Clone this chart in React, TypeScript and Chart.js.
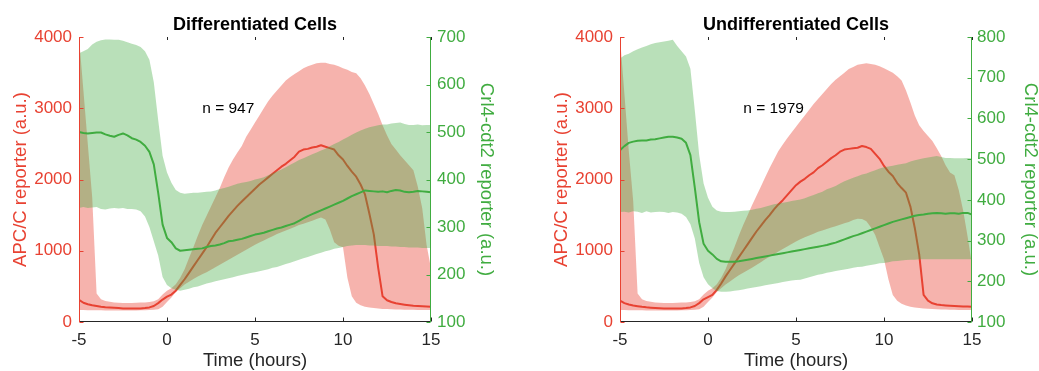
import React, { useEffect, useRef } from "react";
import { Chart, registerables } from "chart.js";

Chart.register(...registerables);

// ---------- data ----------
const TIME_H = [
  -5, -4.75, -4.5, -4.25, -4, -3.75, -3.5, -3.25, -3, -2.75, -2.5, -2.25, -2, -1.75, -1.5, -1.25, -1, -0.75, -0.5, -0.25,
  0, 0.25, 0.5, 0.75, 1, 1.25, 1.5, 1.75, 2, 2.25, 2.5, 2.75, 3, 3.25, 3.5, 3.75, 4, 4.25, 4.5, 4.75,
  5, 5.25, 5.5, 5.75, 6, 6.25, 6.5, 6.75, 7, 7.25, 7.5, 7.75, 8, 8.25, 8.5, 8.75, 9, 9.25, 9.5, 9.75,
  10, 10.25, 10.5, 10.75, 11, 11.25, 11.5, 11.75, 12, 12.25, 12.5, 12.75, 13, 13.25, 13.5, 13.75, 14, 14.25, 14.5, 14.75,
  15,
];

// Differentiated cells — APC/C reporter
const DIFF_APC_MEAN = [
  310, 270, 250, 235, 225, 215, 208, 203, 199, 195, 191, 189, 188, 188, 190, 195, 205, 225, 265, 315,
  355, 385, 440, 520, 600, 690, 780, 870, 960, 1050, 1150, 1250, 1330, 1410, 1490, 1560, 1630, 1690, 1750, 1810,
  1870, 1930, 1980, 2030, 2080, 2130, 2180, 2220, 2270, 2320, 2390, 2420, 2430, 2450, 2460, 2480, 2460, 2440, 2420, 2340,
  2280, 2190, 2110, 2040, 1930, 1790, 1520, 1230, 760, 360, 305, 280, 262, 252, 243, 235, 228, 224, 220, 217,
  214,
];
const DIFF_APC_HI = [
  4000, 3250, 2500, 1750, 400, 320, 295, 285, 275, 270, 268, 268, 268, 270, 272, 275, 280, 290, 320, 385,
  440, 475, 530, 620, 740, 900, 1050, 1210, 1360, 1490, 1620, 1750, 1880, 2030, 2170, 2280, 2380, 2470, 2600, 2700,
  2800, 2900, 3000, 3100, 3180, 3250, 3320, 3390, 3440, 3480, 3520, 3560, 3590, 3610, 3630, 3640, 3640, 3620, 3610, 3590,
  3560, 3540, 3510, 3490, 3420, 3320, 3200, 3060, 2920, 2760, 2620, 2500, 2420, 2340, 2270, 2200, 2130, 1900, 1600, 1080,
  750,
];
const DIFF_APC_LO = [
  170, 168, 166, 165, 165, 164, 163, 163, 162, 162, 162, 162, 162, 163, 164, 166, 168, 172, 180, 215,
  280, 345, 420, 475, 525, 565, 605, 640, 670, 700, 735, 770, 805, 840, 875, 910, 945, 980, 1015, 1050,
  1085, 1115, 1145, 1175, 1205, 1235, 1260, 1285, 1310, 1335, 1360, 1380, 1400, 1420, 1445, 1465, 1440, 1300, 1120, 1070,
  1050, 620, 360, 270, 235, 215, 202, 195, 188, 184, 181, 178, 176, 175, 173, 172, 171, 170, 169, 168,
  168,
];
// Differentiated cells — Crl4-cdt2 reporter
const DIFF_CDT_MEAN = [
  500, 498, 497, 498, 499, 499, 495, 492, 490, 494, 497, 493, 487, 484, 479, 471, 458, 432, 372, 305,
  277, 268, 255, 250, 251, 252, 253, 254, 255, 258, 260, 261, 263, 266, 270, 271, 273, 275, 278, 281,
  284, 286, 288, 291, 294, 297, 299, 302, 305, 308, 313, 318, 323, 327, 331, 335, 339, 343, 347, 351,
  355, 360, 365, 369, 373, 377, 376, 375, 374, 375, 373, 376, 378, 377, 374, 373, 374, 376, 375, 374,
  373,
];
const DIFF_CDT_HI = [
  666, 670, 675, 684, 690, 693, 695, 695, 694, 694, 692, 689, 686, 683, 679, 670, 652, 605, 525, 450,
  415, 393, 378, 372, 370, 371, 372, 372, 373, 374, 375, 377, 380, 382, 385, 388, 391, 393, 395, 397,
  400, 402, 405, 409, 413, 417, 421, 426, 431, 436, 441, 445, 449, 453, 457, 461, 465, 470, 475, 479,
  484, 489, 494, 499, 503, 507, 510, 512, 514, 516, 516, 518, 519, 520, 517, 515, 515, 516, 514, 515,
  515,
];
const DIFF_CDT_LO = [
  340, 342, 340, 341, 342, 338, 337, 339, 340, 339, 340, 338, 338, 337, 333, 322, 300, 270, 240, 195,
  178, 171, 168, 166, 168, 170, 173, 175, 178, 181, 183, 186, 188, 190, 192, 194, 197, 199, 201, 203,
  205, 207, 209, 211, 214, 216, 219, 222, 225, 228, 231, 234, 237, 240, 243, 246, 249, 251, 254, 256,
  258, 260, 261, 262, 262, 262, 261, 261, 260, 260, 260, 259, 259, 258, 258, 257, 257, 257, 256, 256,
  256,
];

// Undifferentiated cells — APC/C reporter
const UNDIFF_APC_MEAN = [
  300, 265, 245, 232, 222, 213, 206, 201, 197, 194, 191, 189, 188, 188, 190, 195, 205, 225, 265, 318,
  350, 380, 450, 540, 640, 730, 820, 910, 1000, 1090, 1180, 1270, 1350, 1430, 1500, 1580, 1650, 1710, 1780, 1850,
  1920, 1970, 2010, 2060, 2100, 2160, 2200, 2250, 2300, 2340, 2390, 2420, 2430, 2440, 2445, 2470, 2455, 2430, 2360, 2290,
  2190, 2110, 2050, 1950, 1880, 1815, 1620, 1320, 950, 380, 300, 262, 245, 238, 233, 229, 225, 222, 219, 216,
  214,
];
const UNDIFF_APC_HI = [
  4000, 3200, 2400, 1700, 400, 320, 295, 285, 275, 270, 268, 268, 268, 270, 272, 275, 280, 290, 320, 385,
  440, 475, 530, 620, 740, 900, 1050, 1210, 1360, 1500, 1640, 1770, 1900, 2030, 2160, 2280, 2400, 2490, 2580, 2660,
  2740, 2820, 2900, 2980, 3060, 3130, 3200, 3270, 3340, 3400, 3450, 3500, 3550, 3580, 3610, 3620, 3630, 3620, 3610, 3590,
  3560, 3530, 3500, 3450, 3390, 3250, 3080, 2900, 2760, 2680, 2610, 2540, 2440, 2330, 2200, 2100, 2060, 1850, 1560, 1200,
  800,
];
const UNDIFF_APC_LO = [
  170, 168, 166, 165, 165, 164, 163, 163, 162, 162, 162, 162, 162, 163, 164, 166, 168, 172, 180, 215,
  280, 345, 420, 475, 525, 570, 615, 655, 690, 725, 760, 800, 840, 880, 915, 950, 990, 1025, 1060, 1095,
  1130, 1160, 1190, 1215, 1240, 1265, 1285, 1305, 1325, 1345, 1365, 1385, 1405, 1430, 1450, 1445, 1415, 1330, 1220, 1050,
  880, 600, 380, 300, 255, 230, 215, 205, 195, 190, 185, 181, 178, 176, 174, 172, 171, 170, 169, 168,
  168,
];
// Undifferentiated cells — Crl4-cdt2 reporter
const UNDIFF_CDT_MEAN = [
  522, 532, 540, 543, 545, 546, 546, 548, 549, 551, 553, 555, 555, 553, 550, 540, 510, 430, 345, 292,
  275, 266, 255, 249, 248, 248, 248, 249, 251, 253, 255, 257, 259, 261, 263, 265, 267, 269, 271, 273,
  275, 277, 279, 281, 283, 285, 287, 289, 292, 295, 299, 303, 307, 311, 314, 318, 322, 326, 330, 334,
  338, 342, 346, 349, 352, 355, 358, 361, 363, 364, 366, 367, 368, 367, 366, 367, 367, 366, 368, 368,
  364,
];
const UNDIFF_CDT_HI = [
  747, 755, 759, 765, 770, 774, 778, 782, 785, 787, 789, 791, 793, 778, 765, 752, 722, 620, 510, 440,
  405, 383, 374, 371, 370, 370, 371, 372, 373, 374, 376, 378, 380, 383, 386, 389, 391, 393, 395, 397,
  399, 401, 404, 408, 412, 416, 420, 426, 430, 434, 440, 446, 450, 454, 458, 462, 465, 469, 473, 477,
  480, 482, 484, 486, 488, 490, 494, 497, 500, 502, 504, 506, 508, 505, 503, 503, 502, 502, 502, 503,
  502,
];
const UNDIFF_CDT_LO = [
  370, 371, 369, 372, 371, 368, 372, 369, 370, 371, 370, 368, 370, 369, 366, 358, 340, 305, 245, 210,
  193, 183, 176, 174, 174, 175, 177, 178, 180, 182, 184, 186, 188, 190, 192, 194, 196, 198, 200, 202,
  203, 204, 207, 210, 213, 216, 218, 221, 223, 225, 227, 229, 231, 233, 235, 236, 238, 240, 242, 244,
  245, 247, 249, 250, 251, 252, 253, 253, 254, 254, 254, 254, 254, 254, 254, 254, 254, 254, 254, 254,
  254,
];

const X_TICKS = [-5, 0, 5, 10, 15];
const APC_TICKS = [0, 1000, 2000, 3000, 4000];
const CDT_TICKS_DIFF = [100, 200, 300, 400, 500, 600, 700];
const CDT_TICKS_UNDIFF = [100, 200, 300, 400, 500, 600, 700, 800];

// ---------- styling ----------
const RED = "rgb(232,66,50)";
const RED_FILL = "rgba(232,66,50,0.4)";
const GREEN = "rgb(64,172,64)";
const GREEN_FILL = "rgba(64,172,64,0.37)";
const DARK = "#262626";
const FONT = "'Liberation Sans', Arial, Helvetica, sans-serif";

Chart.defaults.font.family = FONT;

type PanelProps = {
  title: string;
  note: string;
  apcMean: number[];
  apcHi: number[];
  apcLo: number[];
  cdtMean: number[];
  cdtHi: number[];
  cdtLo: number[];
  cdtTicks: number[];
  width: number;
  leftBox: number;
  rightBox: number;
  leftTitlePad: number;
  rightTitlePad: number;
  leftTickPad: number;
  rightTickPad: number;
};

const pts = (vals: number[]) => vals.map((v, i) => ({ x: TIME_H[i], y: v }));
const plain = (v: any) => String(v);

function Panel(p: PanelProps) {
  const ref = useRef<HTMLCanvasElement | null>(null);
  useEffect(() => {
    if (!ref.current) return;
    const decor = {
      id: "decor",
      afterDraw(chart: any) {
        const { ctx, chartArea: a, scales } = chart;
        ctx.save();
        ctx.lineWidth = 1;
        const seg = (x1: number, y1: number, x2: number, y2: number) => {
          ctx.beginPath();
          ctx.moveTo(x1, y1);
          ctx.lineTo(x2, y2);
          ctx.stroke();
        };
        const L = Math.round(a.left) + 0.5;
        const R = Math.round(a.right) - 0.5;
        const B = Math.round(a.bottom) - 0.5;
        const T = Math.round(a.top);
        ctx.strokeStyle = DARK;
        seg(L, B, R, B);
        X_TICKS.forEach((v) => {
          const px = Math.round(scales.x.getPixelForValue(v)) + 0.5;
          seg(px, B, px, B - 4);
          seg(px, T, px, T + 3);
        });
        ctx.strokeStyle = RED;
        seg(L, T, L, B + 0.5);
        APC_TICKS.forEach((v) => {
          const py = Math.round(scales.y.getPixelForValue(v)) + 0.5;
          seg(L, py, L + 4, py);
        });
        ctx.strokeStyle = GREEN;
        seg(R, T, R, B + 0.5);
        p.cdtTicks.forEach((v) => {
          const py = Math.round(scales.y1.getPixelForValue(v)) + 0.5;
          seg(R, py, R - 4, py);
        });
        ctx.fillStyle = "#000";
        ctx.font = `bold 18px ${FONT}`;
        ctx.textAlign = "center";
        ctx.textBaseline = "alphabetic";
        ctx.fillText(p.title, (a.left + a.right) / 2, 29.5);
        ctx.font = `15.5px ${FONT}`;
        ctx.textAlign = "left";
        ctx.textBaseline = "middle";
        ctx.fillText(p.note, scales.x.getPixelForValue(2), scales.y.getPixelForValue(3000));
        ctx.restore();
      },
    };

    const thin = { borderColor: "rgba(0,0,0,0)", borderWidth: 0, pointRadius: 0 };
    const chart = new Chart(ref.current, {
      type: "line",
      data: {
        datasets: [
          { data: pts(p.apcHi), yAxisID: "y", fill: "+1", backgroundColor: RED_FILL, order: 4, ...thin },
          { data: pts(p.apcLo), yAxisID: "y", fill: false, order: 4, ...thin },
          { data: pts(p.apcMean), yAxisID: "y", fill: false, borderColor: RED, borderWidth: 2, pointRadius: 0, order: 3 },
          { data: pts(p.cdtHi), yAxisID: "y1", fill: "+1", backgroundColor: GREEN_FILL, order: 2, ...thin },
          { data: pts(p.cdtLo), yAxisID: "y1", fill: false, order: 2, ...thin },
          { data: pts(p.cdtMean), yAxisID: "y1", fill: false, borderColor: GREEN, borderWidth: 2, pointRadius: 0, order: 1 },
        ],
      },
      options: {
        animation: false,
        responsive: false,
        devicePixelRatio: 1,
        events: [],
        layout: { padding: { top: 37, left: 0, right: 0, bottom: 0 } },
        elements: { line: { tension: 0, borderJoinStyle: "round" } },
        plugins: { legend: { display: false }, tooltip: { enabled: false }, title: { display: false } },
        scales: {
          x: {
            type: "linear",
            min: -5,
            max: 15,
            grid: { display: false, drawTicks: false },
            border: { display: false },
            afterBuildTicks: (s: any) => {
              s.ticks = X_TICKS.map((v) => ({ value: v }));
            },
            ticks: { color: DARK, font: { size: 17, family: FONT }, padding: 8, autoSkip: false, maxRotation: 0, callback: plain },
            title: {
              display: true,
              text: "Time (hours)",
              color: DARK,
              font: { size: 18.5, family: FONT, lineHeight: 1 },
              padding: { top: 0, bottom: 1 },
            },
            afterFit: (s: any) => {
              s.height = 49;
            },
          },
          y: {
            position: "left",
            min: 0,
            max: 4000,
            grid: { display: false, drawTicks: false },
            border: { display: false },
            afterBuildTicks: (s: any) => {
              s.ticks = APC_TICKS.map((v) => ({ value: v }));
            },
            ticks: { color: RED, font: { size: 17, family: FONT }, padding: p.leftTickPad, autoSkip: false, callback: plain },
            title: {
              display: true,
              text: "APC/C reporter (a.u.)",
              color: RED,
              font: { size: 18.5, family: FONT, lineHeight: 1 },
              padding: { top: p.leftTitlePad, bottom: 0 },
            },
            afterFit: (s: any) => {
              s.width = p.leftBox;
            },
          },
          y1: {
            position: "right",
            min: 100,
            max: p.cdtTicks[p.cdtTicks.length - 1],
            grid: { display: false, drawTicks: false },
            border: { display: false },
            afterBuildTicks: (s: any) => {
              s.ticks = p.cdtTicks.map((v) => ({ value: v }));
            },
            ticks: { color: GREEN, font: { size: 17, family: FONT }, padding: p.rightTickPad, autoSkip: false, callback: plain },
            title: {
              display: true,
              text: "Crl4-cdt2 reporter (a.u.)",
              color: GREEN,
              font: { size: 18.5, family: FONT, lineHeight: 1 },
              padding: { top: p.rightTitlePad, bottom: 0 },
            },
            afterFit: (s: any) => {
              s.width = p.rightBox;
            },
          },
        },
      } as any,
      plugins: [decor],
    });
    return () => chart.destroy();
  }, []);
  return <canvas ref={ref} width={p.width} height={371} style={{ display: "block", width: p.width, height: 371 }} />;
}

export default function App() {
  return (
    <div style={{ position: "absolute", left: 0, top: 0, width: 1039, height: 371, background: "#fff", display: "flex" }}>
      <Panel
        title="Differentiated Cells"
        note="n = 947"
        apcMean={DIFF_APC_MEAN}
        apcHi={DIFF_APC_HI}
        apcLo={DIFF_APC_LO}
        cdtMean={DIFF_CDT_MEAN}
        cdtHi={DIFF_CDT_HI}
        cdtLo={DIFF_CDT_LO}
        cdtTicks={CDT_TICKS_DIFF}
        width={519}
        leftBox={79}
        rightBox={88}
        leftTitlePad={11.5}
        rightTitlePad={24}
        leftTickPad={7}
        rightTickPad={6}
      />
      <Panel
        title="Undifferentiated Cells"
        note="n = 1979"
        apcMean={UNDIFF_APC_MEAN}
        apcHi={UNDIFF_APC_HI}
        apcLo={UNDIFF_APC_LO}
        cdtMean={UNDIFF_CDT_MEAN}
        cdtHi={UNDIFF_CDT_HI}
        cdtLo={UNDIFF_CDT_LO}
        cdtTicks={CDT_TICKS_UNDIFF}
        width={520}
        leftBox={101}
        rightBox={67}
        leftTitlePad={33.4}
        rightTitlePad={0}
        leftTickPad={7}
        rightTickPad={5}
      />
    </div>
  );
}
